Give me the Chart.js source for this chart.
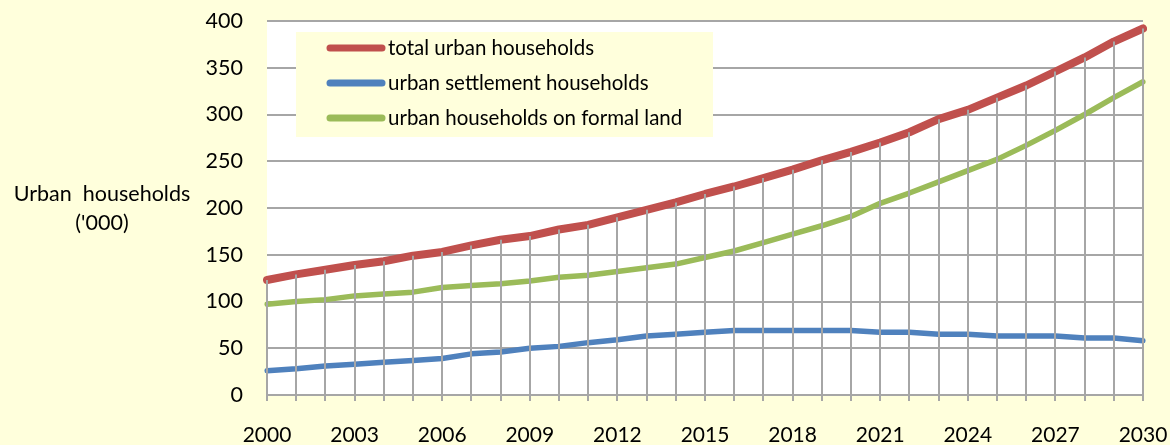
<!DOCTYPE html>
<html>
<head>
<meta charset="utf-8">
<script src="https://cdn.jsdelivr.net/npm/chart.js@4/dist/chart.umd.min.js"></script>
<style>
  html, body { margin: 0; padding: 0; background: #FFFFDC; }
  #wrap { width: 1170px; height: 445px; }
</style>
</head>
<body>
<div id="wrap"><canvas id="householdsChart" width="1170" height="445"></canvas></div>
<script>
// Urban households ('000), 2000-2030
const years = ['2000','2001','2002','2003','2004','2005','2006','2007','2008','2009','2010',
               '2011','2012','2013','2014','2015','2016','2017','2018','2019','2020',
               '2021','2022','2023','2024','2025','2026','2027','2028','2029','2030'];
const totalHouseholds = [123, 129, 134, 139, 143, 149, 153, 160, 166, 170, 177,
                         182, 190, 198, 206, 215, 223, 232, 241, 251, 260,
                         270, 281, 295, 305, 318, 331, 346, 361, 378, 392];
const settlementHouseholds = [26, 28, 31, 33, 35, 37, 39, 44, 46, 50, 52,
                              56, 59, 63, 65, 67, 69, 69, 69, 69, 69,
                              67, 67, 65, 65, 63, 63, 63, 61, 61, 58];
const formalLandHouseholds = [97, 100, 102, 106, 108, 110, 115, 117, 119, 122, 126,
                              128, 132, 136, 140, 147, 154, 163, 172, 181, 191,
                              205, 216, 228, 240, 252, 267, 283, 300, 318, 335];
const yTicks = [0, 50, 100, 150, 200, 250, 300, 350, 400];

const FONT = 'Lato';
const GRID = '#A6A6A6';

// white plot area on the cream page
const plotBackground = {
    id: 'plotBackground',
    beforeDraw(chart) {
        const { ctx, chartArea: a } = chart;
        ctx.save();
        ctx.fillStyle = '#FFFFFF';
        ctx.fillRect(a.left, a.top, a.right - a.left, a.bottom - a.top);
        ctx.restore();
    }
};

// drop lines from every point of the top series down to the axis
const dropLines = {
    id: 'dropLines',
    afterDatasetsDraw(chart) {
        const { ctx, chartArea: a } = chart;
        const meta = chart.getDatasetMeta(0);
        ctx.save();
        ctx.strokeStyle = GRID;
        ctx.lineWidth = 2;
        meta.data.forEach(pt => {
            const x = Math.round(pt.x);
            ctx.beginPath();
            ctx.moveTo(x, pt.y);
            ctx.lineTo(x, a.bottom);
            ctx.stroke();
        });
        ctx.restore();
    }
};

// legend box inside the plot and horizontal axis title
const boxLegend = {
    id: 'boxLegend',
    afterDraw(chart) {
        const { ctx, chartArea: a } = chart;
        const left = a.left + 29, top = a.top + 11;
        ctx.save();
        ctx.fillStyle = '#FFFFDC';
        ctx.fillRect(left, top, 417, 105);
        ctx.font = '20.5px ' + FONT;
        ctx.textBaseline = 'middle';
        ctx.textAlign = 'left';
        chart.data.datasets.forEach((ds, i) => {
            const y = top + 16 + i * 35;
            ctx.strokeStyle = ds.borderColor;
            ctx.lineWidth = 7;
            ctx.lineCap = 'round';
            ctx.beginPath();
            ctx.moveTo(left + 34, y);
            ctx.lineTo(left + 86, y);
            ctx.stroke();
            ctx.fillStyle = '#000000';
            ctx.fillText(ds.label, left + 92, y);
        });

        ctx.font = '21.5px ' + FONT;
        ctx.textAlign = 'center';
        ctx.fillText('Urban  households', 102, 194);
        ctx.fillText("('000)", 102, 223);
        ctx.restore();
    }
};

const ctx = document.getElementById('householdsChart').getContext('2d');
new Chart(ctx, {
    type: 'line',
    data: {
        labels: years,
        datasets: [
            { label: 'total urban households', data: totalHouseholds,
              borderColor: '#C0504D', borderWidth: 8, order: 3 },
            { label: 'urban settlement households', data: settlementHouseholds,
              borderColor: '#4F81BD', borderWidth: 5.5, order: 1 },
            { label: 'urban households on formal land', data: formalLandHouseholds,
              borderColor: '#9BBB59', borderWidth: 5.5, order: 2 }
        ]
    },
    options: {
        responsive: false,
        animation: false,
        layout: { padding: { top: 21, right: 27, left: 0, bottom: 0 } },
        elements: {
            point: { radius: 0 },
            line: { tension: 0, borderCapStyle: 'round', borderJoinStyle: 'round' }
        },
        plugins: {
            legend: { display: false },
            tooltip: { enabled: false }
        },
        scales: {
            x: {
                offset: false,
                afterFit(scale) {
                    scale.height = 50;
                    scale.paddingLeft = 0;
                    scale.paddingRight = 0;
                },
                grid: { drawOnChartArea: false, drawTicks: true, tickLength: 6,
                        color: GRID, lineWidth: 2 },
                border: { display: true, color: GRID, width: 2 },
                ticks: {
                    autoSkip: false, maxRotation: 0, padding: 22,
                    color: '#000000', font: { family: FONT, size: 21 },
                    callback: (v, i) => (i % 3 === 0 ? years[i] : '')
                }
            },
            y: {
                min: yTicks[0],
                max: yTicks[yTicks.length - 1],
                afterFit(scale) {
                    scale.width = 267;
                    scale.paddingTop = 0;
                    scale.paddingBottom = 0;
                },
                afterBuildTicks(scale) { scale.ticks = yTicks.map(v => ({ value: v })); },
                grid: { color: GRID, lineWidth: 2, drawTicks: false },
                border: { display: false },
                ticks: { padding: 24, color: '#000000', font: { family: FONT, size: 21.5 } }
            }
        }
    },
    plugins: [plotBackground, dropLines, boxLegend]
});
</script>
</body>
</html>
